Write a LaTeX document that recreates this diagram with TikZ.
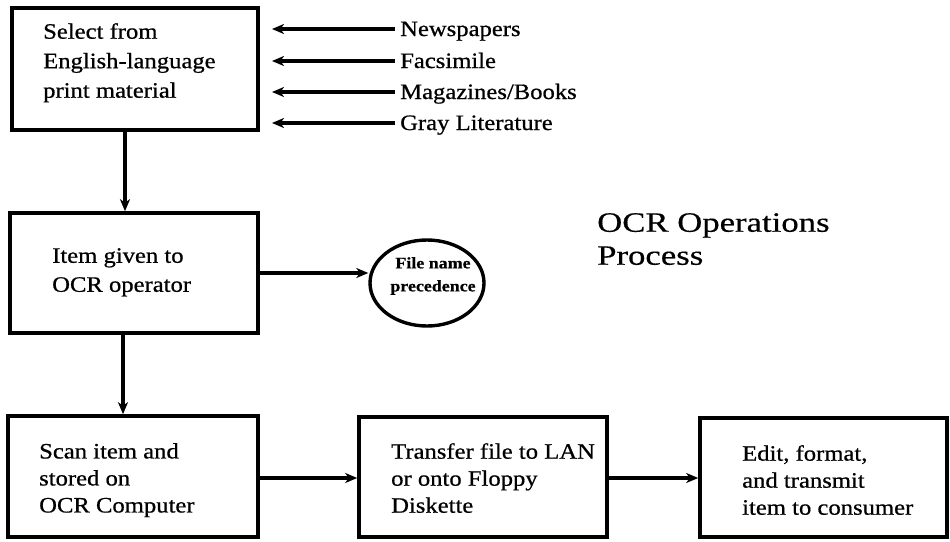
\documentclass[tikz,border=0pt]{standalone}
\usepackage{fontspec}
\setmainfont[FakeStretch=1.12,FakeBold=0.7]{Liberation Serif}
\newfontfamily\titlefont[FakeStretch=1.24,FakeBold=0.4]{Liberation Serif}
\newfontfamily\smallbold[FakeStretch=1.12,FakeBold=0.6]{Liberation Serif Bold}
\usetikzlibrary{arrows.meta,shapes.geometric}
\begin{document}
\begin{tikzpicture}[x=1pt,y=-1pt,
  box/.style={draw,line width=3.6pt,rectangle,inner sep=0pt},
  txt/.style={anchor=north west,inner sep=0pt,align=left,font=\fontsize{22}{#1}\selectfont},
  conn/.style={line width=3.4pt,-{Stealth[length=12pt,width=10pt,inset=3.5pt]}},
  src/.style={anchor=west,inner xsep=5pt,inner ysep=0pt,text height=16pt,text depth=2pt,font=\fontsize{22}{26}\selectfont}
]
\useasboundingbox (0,0) rectangle (950,541);
% boxes
\node[box,minimum width=246pt,minimum height=122pt] (b1) at (135,69) {};
\node[box,minimum width=248pt,minimum height=120pt] (b2) at (134,273) {};
\node[box,minimum width=250pt,minimum height=121pt] (b3) at (133,476.5) {};
\node[box,minimum width=248pt,minimum height=120pt] (b4) at (483,477) {};
\node[box,minimum width=247pt,minimum height=119pt] (b5) at (823.5,477.5) {};
% box texts
\node[txt=29.5] (t1) at (43,23) {Select from\\English-language\\print material};
\node[txt=29] (t2) at (52,248) {Item given to\\OCR operator};
\node[txt=27] (t3) at (39,443) {Scan item and\\stored on\\OCR Computer};
\node[txt=27] (t4) at (391,443) {Transfer file to LAN\\or onto Floppy\\Diskette};
\node[txt=27] (t5) at (742,445) {Edit, format,\\and transmit\\item to consumer};
% ellipse
\node[draw,ellipse,line width=3.4pt,minimum width=114pt,minimum height=86pt,inner sep=0pt] (e) at (427,283) {};
\node[inner sep=0pt,align=center,font=\smallbold\fontsize{16}{23}\selectfont] (et) at (433,276) {File name\\precedence};
% title
\node[anchor=north west,inner sep=0pt,align=left,font=\titlefont\fontsize{28}{33}\selectfont] (title) at (597,213) {OCR Operations\\Process};
% source labels
\node[src] (s1) at (395,29) {Newspapers};
\node[src] (s2) at (395,61) {Facsimile};
\node[src] (s3) at (395,92) {Magazines/Books};
\node[src] (s4) at (395,123) {Gray Literature};
\coordinate (tip) at (272,0);
\foreach \s in {s1,s2,s3,s4}{
  \draw[conn] (\s.west) -- (\s.west -| tip);
}
% connectors
\coordinate (v1) at (125,0);
\coordinate (v2) at (123,0);
\draw[conn] (b1.south -| v1) -- (b2.north -| v1);
\draw[conn] (b2.south -| v2) -- (b3.north -| v2);
\draw[conn] (b2.east) -- (b2.east -| e.west);
\coordinate (h) at (0,478);
\draw[conn] (b3.east |- h) -- (b4.west |- h);
\draw[conn] (b4.east |- h) -- (b5.west |- h);
\end{tikzpicture}
\end{document}
